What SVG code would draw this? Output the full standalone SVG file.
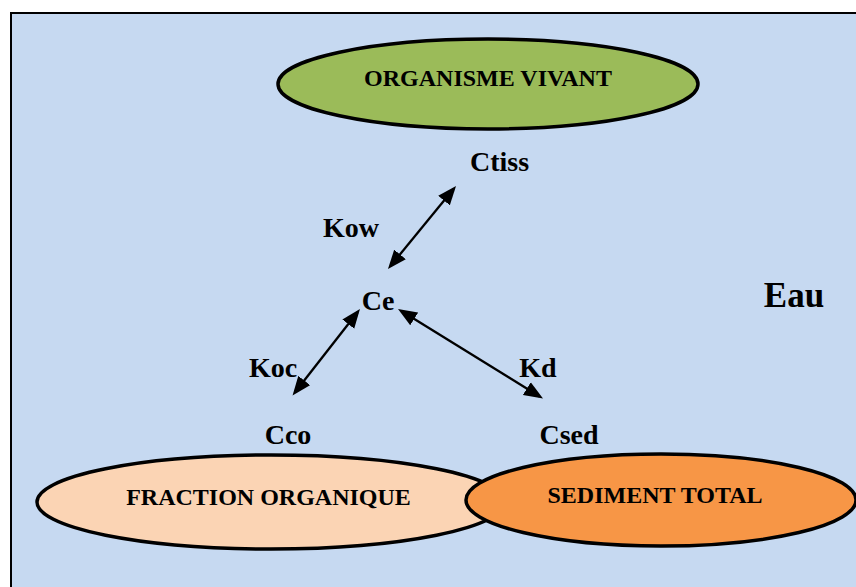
<svg xmlns="http://www.w3.org/2000/svg" width="856" height="587" viewBox="0 0 856 587">
<style>
.ell{stroke:#000;stroke-width:3.5}
.t{font-family:"Liberation Serif","Times New Roman",serif;font-weight:bold;fill:#000;text-anchor:middle}
.big{font-size:24px}
.lab{font-size:28px}
.con{stroke:#000;stroke-width:2.3;fill:none;marker-start:url(#ah);marker-end:url(#ah)}
</style>
<defs>
<marker id="ah" markerUnits="userSpaceOnUse" markerWidth="20" markerHeight="16" refX="15" refY="8" orient="auto-start-reverse">
<path d="M0,0.5 L19,8 L0,15.5 z" fill="#000"/>
</marker>
</defs>
<rect x="0" y="0" width="856" height="587" fill="#fff"/>
<rect id="water" x="11" y="13" width="900" height="620" fill="#C6D9F1" stroke="#000" stroke-width="2"/>
<g id="organisme">
<ellipse class="ell" cx="488" cy="84" rx="210" ry="45" fill="#9BBB59"/>
<text class="t big" x="488" y="86">ORGANISME VIVANT</text>
</g>
<g id="fraction">
<ellipse class="ell" cx="271" cy="502" rx="234" ry="47" fill="#FBD4B4"/>
<text class="t big" x="268.5" y="505">FRACTION ORGANIQUE</text>
</g>
<g id="sediment">
<ellipse class="ell" cx="661" cy="500" rx="195" ry="46" fill="#F79646"/>
<text class="t big" x="655" y="503">SEDIMENT TOTAL</text>
</g>
<g id="ctiss"><text class="t lab" x="499.5" y="171">Ctiss</text></g>
<g id="ce"><text class="t lab" x="378" y="310">Ce</text></g>
<g id="cco"><text class="t lab" x="288" y="444">Cco</text></g>
<g id="csed"><text class="t lab" x="569" y="444">Csed</text></g>
<g id="eau"><text class="t" style="font-size:35px" x="794" y="307">Eau</text></g>
<g id="connectors">
<line class="con" x1="453.5" y1="189" x2="390.5" y2="266"/>
<line class="con" x1="357.5" y1="312.2" x2="295" y2="392.3"/>
<line class="con" x1="401.4" y1="311.1" x2="539.6" y2="396.4"/>
<text class="t lab" x="351" y="237">Kow</text>
<text class="t lab" x="273" y="377">Koc</text>
<text class="t lab" x="538" y="377">Kd</text>
</g>
</svg>
